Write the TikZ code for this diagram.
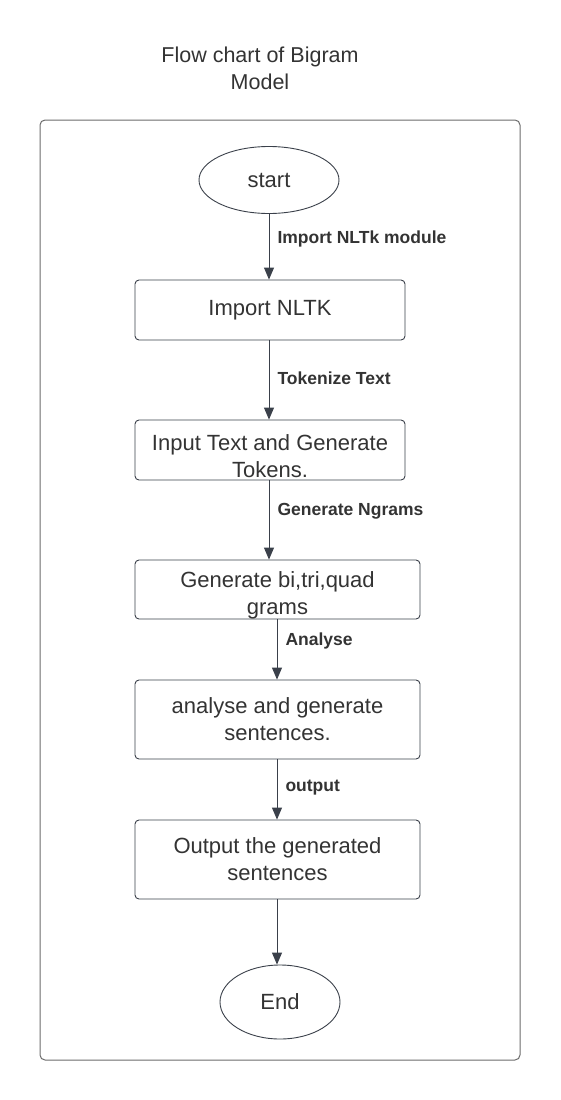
\documentclass[tikz,border=0pt]{standalone}
\usepackage{fontspec}
\setmainfont{Liberation Sans}
\usetikzlibrary{arrows.meta,shapes.geometric}
\definecolor{ink}{HTML}{333333}
\definecolor{wire}{HTML}{3A404A}
\definecolor{edge}{HTML}{6B6B6B}

\begin{document}
\begin{tikzpicture}%
[x=1pt, y=-1pt, text=ink,%
term/.style={draw=wire, line width=0.9pt, shape=ellipse, inner sep=0pt, font=\fontsize{22}{27}\selectfont},%
stepbox/.style={draw=wire, line width=0.9pt, rounded corners=4pt, minimum width=270pt, minimum height=60pt, align=center, inner sep=0pt, font=\fontsize{22}{27}\selectfont},%
boxtext/.style={align=center, inner sep=0pt, font=\fontsize{22}{27}\selectfont},%
flow/.style={draw=wire, line width=0.9pt, -{Triangle[length=12pt,width=10pt]}},%
tag/.style={anchor=west, font=\bfseries\fontsize{17.5}{20}\selectfont}]
\useasboundingbox (0,0) rectangle (560,1100);
\node[align=center, font=\fontsize{21.5}{27}\selectfont] (title) at (260,68) {Flow chart of Bigram\\Model};
\draw[edge, line width=1pt, rounded corners=5pt] (40,120) rectangle (520,1060);
\node[term, minimum width=140pt, minimum height=67pt] (start) at (269,180) {start};
\node[stepbox] (nltk) at (270,310) {Import NLTK};
\node[stepbox] (tokens) at (270,450) {};
\node[boxtext] (tokens-text) at ([yshift=-6pt]tokens.center) {Input Text and Generate\\Tokens.};
\node[stepbox, minimum width=285pt, minimum height=59pt] (grams) at (277.5,589.5) {};
\node[boxtext] (grams-text) at ([yshift=-6pt]grams.center) {Generate bi,tri,quad\\grams};
\node[stepbox, minimum width=285pt, minimum height=79pt] (analyse) at (277.5,719.5) {analyse and generate\\sentences.};
\node[stepbox, minimum width=285pt, minimum height=79pt] (output) at (277.5,859.5) {Output the generated\\sentences};
\node[term, minimum width=120pt, minimum height=74pt] (end) at (280,1002) {End};
% connectors
\draw[flow] (start) -- (start |- nltk.north);
\draw[flow] (nltk.south -| start) -- (start |- tokens.north);
\draw[flow] (tokens.south -| start) -- (start |- grams.north);
\coordinate (c1) at (277,619);
\coordinate (c2) at (277,759);
\coordinate (c3) at (277,899);
\draw[flow] (c1) -- (c1 |- analyse.north);
\draw[flow] (c2) -- (c2 |- output.north);
\draw[flow] (c3) -- (c3 |- end.north);
% labels
\node[tag] (l1) at (274,239) {Import NLTk module};
\node[tag] (l2) at (274,378) {Tokenize Text};
\node[tag] (l3) at (274,511) {Generate Ngrams};
\node[tag] (l4) at (282,641) {Analyse};
\node[tag] (l5) at (282,788) {output};
\end{tikzpicture}
\end{document}
